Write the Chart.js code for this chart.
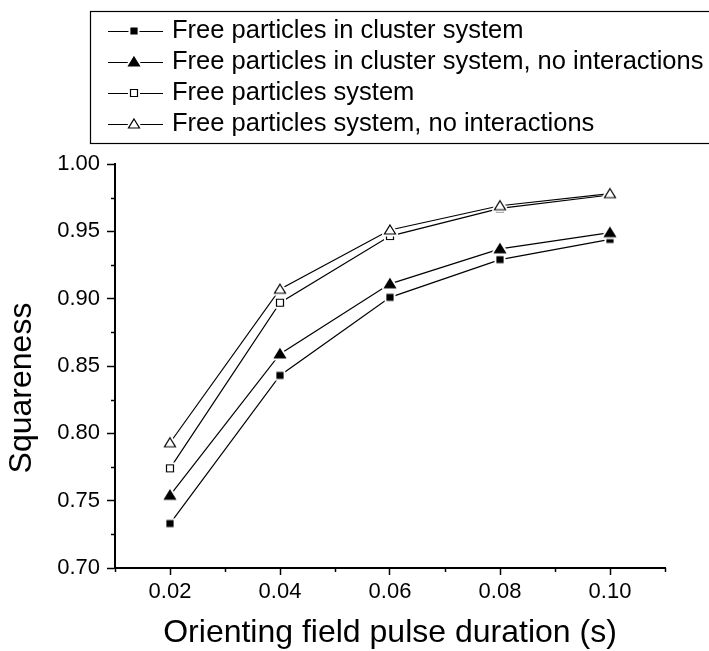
<!DOCTYPE html>
<html>
<head>
<meta charset="utf-8">
<script src="https://cdn.jsdelivr.net/npm/chart.js@4.4.1/dist/chart.umd.min.js"></script>
<style>
  html, body { margin: 0; padding: 0; background: #fff; }
  canvas { display: block; }
</style>
</head>
<body>
<canvas id="chart" width="709" height="651"></canvas>
<script>
'use strict';

// pulse duration, s
const durations = [0.02, 0.04, 0.06, 0.08, 0.10];

// squareness per series
const clusterFree        = [0.733, 0.843, 0.901, 0.929, 0.944];
const clusterFreeNoInter = [0.754, 0.859, 0.911, 0.937, 0.949];
const freeSystem         = [0.774, 0.897, 0.9465, 0.967, 0.977];
const freeSystemNoInter  = [0.793, 0.907, 0.951, 0.969, 0.978];

const seriesNames = [
    'Free particles in cluster system',
    'Free particles in cluster system, no interactions',
    'Free particles system',
    'Free particles system, no interactions'
];

const xTicks  = [0.02, 0.04, 0.06, 0.08, 0.10];
const xMinor  = [0.01, 0.03, 0.05, 0.07, 0.09, 0.11];
const yTicks  = [0.70, 0.75, 0.80, 0.85, 0.90, 0.95, 1.00];
const yMinor  = [0.725, 0.775, 0.825, 0.875, 0.925, 0.975];

const xTitle = 'Orienting field pulse duration (s)';
const yTitle = 'Squareness';

const FONT = '"Liberation Sans", Arial, Helvetica, sans-serif';

/*
 * Origin style markers: a white halo round the shape so the line stops short of it.
 */
function makeMarker(shape, filled) {
    let c = document.createElement('canvas');
    c.width  = 18;
    c.height = 18;
    let g = c.getContext('2d');
    g.beginPath();
    if (shape === 'square') {
        let s = filled ? 6 : 7;
        g.rect(9 - s / 2, 9 - s / 2, s, s);
    } else {
        g.moveTo(9, 4);
        g.lineTo(14.5, 13);
        g.lineTo(3.5, 13);
        g.closePath();
    }
    g.strokeStyle = '#fff';
    g.lineWidth   = 5;
    g.lineJoin    = 'round';
    g.stroke();
    g.fillStyle = filled ? '#000' : '#fff';
    g.fill();
    g.strokeStyle = '#000';
    g.lineWidth   = 1.2;
    g.lineJoin    = 'miter';
    g.stroke();
    return c;
}

const markers = [
    makeMarker('square', true),
    makeMarker('triangle', true),
    makeMarker('square', false),
    makeMarker('triangle', false)
];

function points(vals) {
    return durations.map((x, i) => ({x: x, y: vals[i]}));
}

const seriesVals = [clusterFree, clusterFreeNoInter, freeSystem, freeSystemNoInter];
const drawOrder  = [3, 2, 1, 0];

const datasets = seriesVals.map((vals, i) => ({
    label:       seriesNames[i],
    data:        points(vals),
    borderColor: '#000',
    borderWidth: 1.2,
    pointStyle:  markers[i],
    pointRadius: 5,
    pointHoverRadius: 5,
    fill:        false,
    tension:     0,
    order:       drawOrder[i]
}));

const originDecor = {
    id: 'originDecor',
    afterDraw(chart) {
        let ctx = chart.ctx;
        let xs  = chart.scales.x;
        let ys  = chart.scales.y;

        ctx.save();
        ctx.strokeStyle = '#000';
        ctx.lineWidth   = 1.5;
        // minor ticks
        ctx.beginPath();
        xMinor.forEach(v => {
            let px = Math.round(xs.getPixelForValue(v)) + 0.5;
            ctx.moveTo(px, ys.bottom);
            ctx.lineTo(px, ys.bottom + 4);
        });
        yMinor.forEach(v => {
            let py = Math.round(ys.getPixelForValue(v)) + 0.5;
            ctx.moveTo(xs.left, py);
            ctx.lineTo(xs.left - 4, py);
        });
        ctx.stroke();

        // y title, sits a little below the axis middle
        ctx.fillStyle    = '#000';
        ctx.font         = '32px ' + FONT;
        ctx.textAlign    = 'center';
        ctx.textBaseline = 'middle';
        ctx.save();
        ctx.translate(22, 388);
        ctx.rotate(-Math.PI / 2);
        ctx.fillText(yTitle, 0, 0);
        ctx.restore();

        // legend box
        ctx.lineWidth = 1.2;
        ctx.strokeRect(90.5, 11.5, 700, 132);

        let rows = [31, 62, 93, 124];
        ctx.font      = '25.5px ' + FONT;
        ctx.textAlign = 'left';
        chart.data.datasets.forEach((ds, i) => {
            let y = rows[i];
            ctx.beginPath();
            ctx.lineWidth = 1.2;
            ctx.moveTo(108, y + 0.5);
            ctx.lineTo(163, y + 0.5);
            ctx.stroke();
            let m = ds.pointStyle;
            ctx.drawImage(m, 134 - m.width / 2, y - m.height / 2);
            ctx.fillText(ds.label, 172, y);
        });
        ctx.restore();
    }
};

new Chart(document.getElementById('chart'), {
    type: 'line',
    data: {datasets: datasets},
    options: {
        responsive: false,
        animation:  false,
        layout: {padding: {top: 164, right: 44, bottom: 0, left: 0}},
        plugins: {
            legend:  {display: false},
            tooltip: {enabled: false}
        },
        scales: {
            x: {
                type: 'linear',
                min:  0.01,
                max:  0.11,
                afterFit: s => { s.height = 83; },
                afterBuildTicks: s => { s.ticks = xTicks.map(v => ({value: v})); },
                border: {display: true, color: '#000', width: 2},
                grid: {
                    drawOnChartArea: false,
                    drawTicks: true,
                    tickLength: 7,
                    tickWidth: 1.5,
                    tickColor: '#000'
                },
                ticks: {
                    color: '#000',
                    padding: 4,
                    font: {family: FONT, size: 22},
                    callback: v => v.toFixed(2)
                },
                title: {
                    display: true,
                    text: xTitle,
                    color: '#000',
                    padding: {top: 0, bottom: 2},
                    font: {family: FONT, size: 32, lineHeight: 1}
                }
            },
            y: {
                type: 'linear',
                min:  0.70,
                max:  1.00,
                afterFit: s => { s.width = 115; },
                afterBuildTicks: s => { s.ticks = yTicks.map(v => ({value: v})); },
                border: {display: true, color: '#000', width: 2},
                grid: {
                    drawOnChartArea: false,
                    drawTicks: true,
                    tickLength: 8,
                    tickWidth: 1.5,
                    tickColor: '#000'
                },
                ticks: {
                    color: '#000',
                    padding: 7,
                    font: {family: FONT, size: 22},
                    callback: v => v.toFixed(2)
                },
                title: {display: false}
            }
        }
    },
    plugins: [originDecor]
});
</script>
</body>
</html>
